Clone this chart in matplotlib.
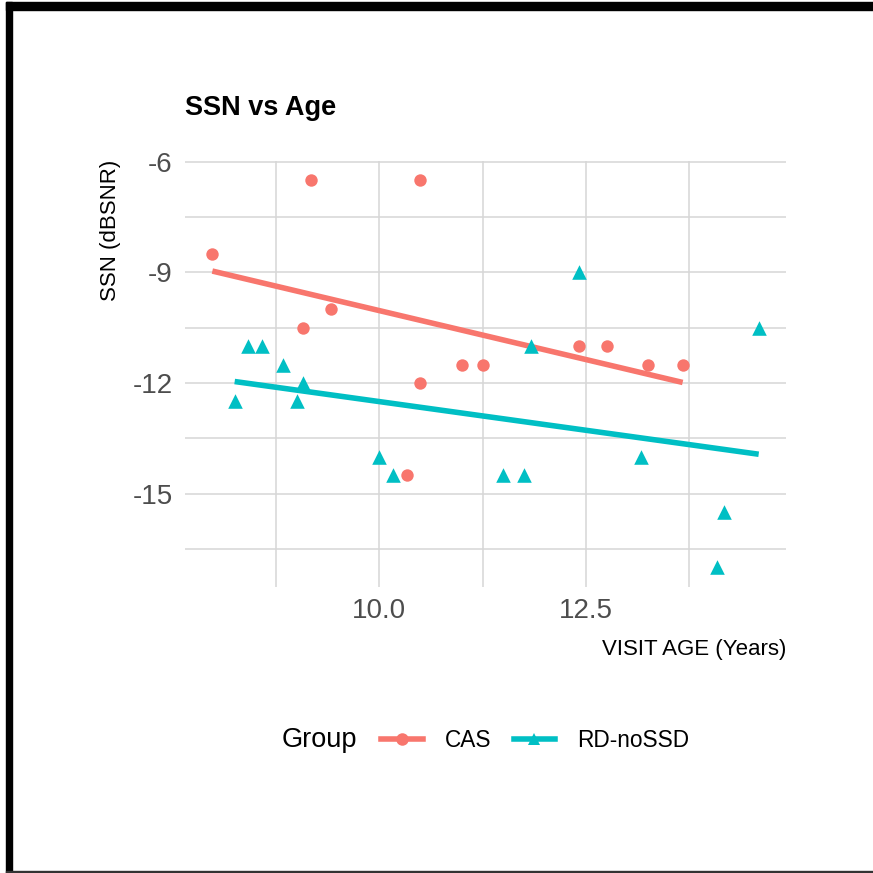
import matplotlib.pyplot as plt
import numpy as np
from matplotlib.lines import Line2D
from matplotlib.patches import Rectangle

plt.rcParams['font.family'] = ['Liberation Sans', 'DejaVu Sans']
plt.rcParams['axes.unicode_minus'] = False

# data
cas_age = [7.98, 9.17, 10.49, 9.41, 9.08, 11.0, 11.25, 10.49, 10.33,
           12.42, 12.75, 13.25, 13.67]
cas_ssn = [-8.5, -6.5, -6.5, -10.0, -10.5, -11.5, -11.5, -12.0, -14.5,
           -11.0, -11.0, -11.5, -11.5]

rd_age = [8.41, 8.58, 8.83, 9.08, 8.25, 9.0, 10.0, 10.17, 12.42, 11.83,
          14.59, 13.17, 11.5, 11.75, 14.17, 14.08]
rd_ssn = [-11.0, -11.0, -11.5, -12.0, -12.5, -12.5, -14.0, -14.5, -9.0,
          -11.0, -10.5, -14.0, -14.5, -14.5, -15.5, -17.0]

groups = ['CAS', 'RD-noSSD']
colors = ['#F8766D', '#00BFC4']
markers = ['o', '^']

fig = plt.figure(figsize=(8.73, 8.73), dpi=100)
ax = fig.add_axes([0.2120, 0.3278, 0.6883, 0.4882])

data = [(cas_age, cas_ssn), (rd_age, rd_ssn)]
for (xs, ys), c, m in zip(data, colors, markers):
    xs = np.array(xs)
    ys = np.array(ys)
    ax.scatter(xs, ys, s=80 if m == 'o' else 110, color=c, marker=m,
               linewidths=0, zorder=3)
    # linear fit, like geom_smooth(method = "lm", se = FALSE)
    k, b = np.polyfit(xs, ys, 1)
    xx = np.array([xs.min(), xs.max()])
    ax.plot(xx, k * xx + b, color=c, lw=4, solid_capstyle='butt', zorder=2)

ax.set_xlim(7.65, 14.92)
ax.set_ylim(-17.525, -5.975)
ax.set_xticks([10.0, 12.5])
ax.set_xticklabels(['10.0', '12.5'])
ax.set_xticks([8.75, 11.25, 13.75], minor=True)
ax.set_yticks([-6, -9, -12, -15])
ax.set_yticks([-7.5, -10.5, -13.5, -16.5], minor=True)
ax.grid(True, which='both', color='#D6D6D6', lw=1.1)
ax.set_axisbelow(True)
for s in ax.spines.values():
    s.set_visible(False)
ax.tick_params(which='both', length=0, labelsize=20, labelcolor='#4D4D4D')
ax.tick_params(axis='y', pad=9)
ax.tick_params(axis='x', pad=8)

fig.text(0.212, 0.861, 'SSN vs Age', fontsize=19.5, fontweight='bold',
         ha='left', va='bottom')
fig.text(0.127, 0.817, 'SSN (dBSNR)', fontsize=16, rotation=90,
         ha='center', va='top')
fig.text(0.9003, 0.2555, 'VISIT AGE (Years)', fontsize=16,
         ha='right', va='center')

# legend along the bottom
fig.text(282 / 873, 0.152, 'Group', fontsize=19.5, ha='left', va='center')
handles = [Line2D([], [], color=c, lw=4, marker=m, markersize=9,
                  markeredgewidth=0) for c, m in zip(colors, markers)]
fig.legend(handles, groups, loc='center left', bbox_to_anchor=(381 / 873, 0.152),
           ncol=2, frameon=False, fontsize=16.3, handlelength=1.85,
           handletextpad=0.95, columnspacing=1.0, borderpad=0, borderaxespad=0)

# black frame around the picture
fig.add_artist(Rectangle((6 / 873, 0), 6 / 873, 871 / 873, color='black',
                         transform=fig.transFigure))
fig.add_artist(Rectangle((6 / 873, 863 / 873), 867 / 873, 8 / 873, color='black',
                         transform=fig.transFigure))
fig.add_artist(Rectangle((6 / 873, 0), 867 / 873, 2 / 873, color='#333333',
                         transform=fig.transFigure))

fig.savefig('out.png', dpi=100)
